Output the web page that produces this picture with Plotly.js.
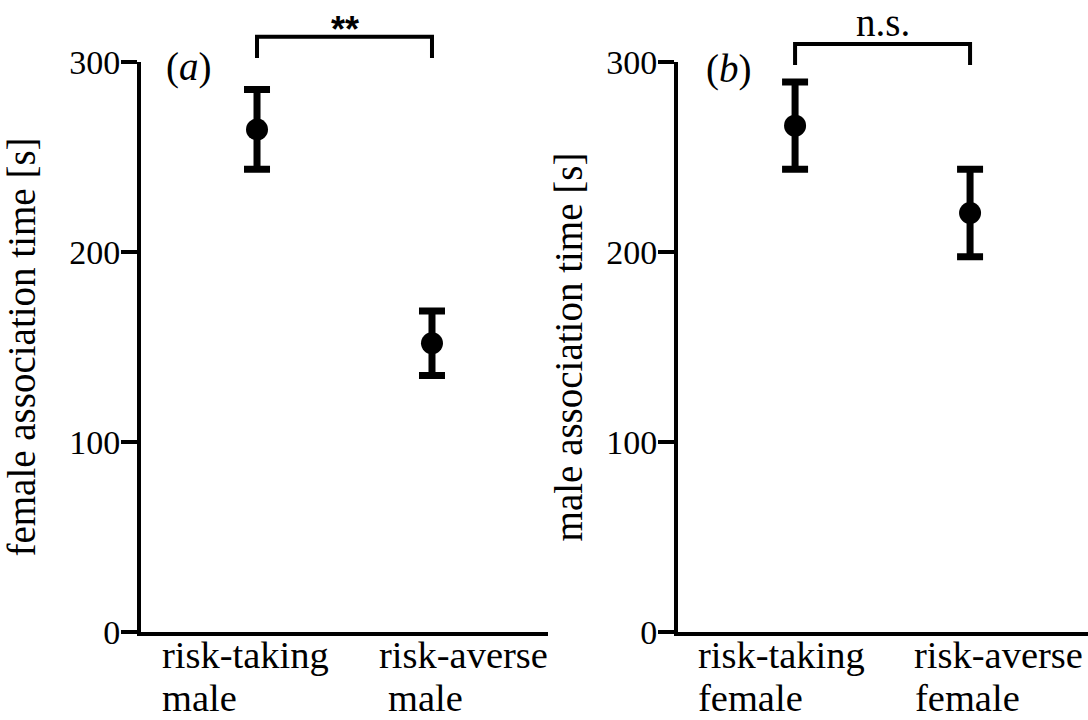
<!DOCTYPE html>
<html><head><meta charset="utf-8">
<script src="https://cdn.plot.ly/plotly-3.0.1.min.js"></script>
<style>html,body{margin:0;padding:0;background:#fff}#chart{width:1088px;height:720px}</style>
</head><body><div id="chart"></div>
<script>
// ---- data ----
const categoriesA = ["risk-taking<br>male", "risk-averse<br>male"];
const meansA = [264.5, 152];
const errorsA = [21, 17];
const categoriesB = ["risk-taking<br>female", "risk-averse<br>female"];
const meansB = [266.5, 220.5];
const errorsB = [23, 23];
const yTickVals = [0, 100, 200, 300];
const yTitles = ["female association time [s]", "male association time [s]"];
const panelLabels = ["(<i>a</i>)", "(<i>b</i>)"];
const significance = ["**", "n.s."];

// ---- style ----
const SERIF = "Liberation Serif, Times New Roman, serif";
const positions = [0, 1];
const labelShifts = [[[-96, -96], [-54, -45]], [[-98, -98], [-57, -56]]];

function errTrace(y, err, xa, ya) {
  return {
    type: "scatter", mode: "markers", x: positions, y: y, xaxis: xa, yaxis: ya,
    marker: {color: "#000", size: 22},
    error_y: {type: "data", array: err, visible: true, color: "#000", thickness: 7, width: 13},
    showlegend: false, hoverinfo: "skip", cliponaxis: false
  };
}

const traces = [errTrace(meansA, errorsA, "x", "y"), errTrace(meansB, errorsB, "x2", "y2")];

const yDomain = [88/720, 658/720];
function yAxis(anchor, title, standoff) {
  return {
    anchor: anchor, domain: yDomain, range: [0, 300], tickvals: yTickVals,
    showline: true, linecolor: "#000", linewidth: 4,
    ticks: "outside", ticklen: 16, tickwidth: 4, tickcolor: "#000",
    ticklabelstandoff: -6,
    showgrid: false, zeroline: false,
    tickfont: {family: SERIF, size: 34, color: "#000"},
    title: {text: title, font: {family: SERIF, size: 39, color: "#000"}, standoff: standoff},
    fixedrange: true
  };
}
function xAxis(anchor, domain, range) {
  return {
    anchor: anchor, domain: domain, range: range, showline: true, linecolor: "#000", linewidth: 4,
    ticks: "", showticklabels: false, showgrid: false, zeroline: false, fixedrange: true
  };
}

const annotations = [];
const shapes = [];
const cats = [categoriesA, categoriesB];
const xrefs = ["x", "x2"];
cats.forEach((arr, p) => {
  arr.forEach((lab, i) => {
    lab.split("<br>").forEach((line, k) => {
      annotations.push({
        xref: xrefs[p], yref: "paper", x: positions[i], xshift: labelShifts[p][i][k],
        y: k === 0 ? (720-655)/720 : (720-698)/720,
        xanchor: "left", yanchor: "middle", showarrow: false, text: line, borderpad: 0,
        font: {family: SERIF, size: 38.5, color: "#000"}
      });
    });
  });
});
// panel labels
annotations.push({xref: "paper", yref: "paper", x: 164/1088, y: (720-67)/720, xanchor: "left", yanchor: "middle",
  showarrow: false, text: panelLabels[0], font: {family: SERIF, size: 39, color: "#000"}});
annotations.push({xref: "paper", yref: "paper", x: 704/1088, y: (720-69)/720, xanchor: "left", yanchor: "middle",
  showarrow: false, text: panelLabels[1], font: {family: SERIF, size: 39, color: "#000"}});
// significance labels
annotations.push({xref: "x", yref: "paper", x: 0.5, y: (720-30)/720, xanchor: "center", yanchor: "middle",
  showarrow: false, text: significance[0], font: {family: "Liberation Sans, Arial, sans-serif", size: 36, color: "#000", weight: "bold"}});
annotations.push({xref: "x2", yref: "paper", x: 0.5, y: (720-22)/720, xanchor: "center", yanchor: "middle",
  showarrow: false, text: significance[1], font: {family: SERIF, size: 39, color: "#000"}});
// brackets
const brackets = [["x", (720-36.7)/720, (720-58)/720], ["x2", (720-44)/720, (720-65)/720]];
brackets.forEach(b => {
  shapes.push({type: "path", xref: b[0], yref: "paper",
    path: `M ${positions[0]},${b[2]} L ${positions[0]},${b[1]} L ${positions[1]},${b[1]} L ${positions[1]},${b[2]}`,
    line: {color: "#000", width: 4}});
});

const layout = {
  width: 1088, height: 720, margin: {l: 0, r: 0, t: 0, b: 0},
  paper_bgcolor: "#fff", plot_bgcolor: "#fff", showlegend: false,
  xaxis: xAxis("y", [141/1088, 548/1088], [-0.663, 1.663]),
  yaxis: yAxis("x", yTitles[0], 24),
  xaxis2: xAxis("y2", [678/1088, 1], [-0.669, 1.674]),
  yaxis2: yAxis("x2", yTitles[1], 13),
  annotations: annotations, shapes: shapes
};

Plotly.newPlot("chart", traces, layout, {displayModeBar: false, staticPlot: true});
</script></body></html>
